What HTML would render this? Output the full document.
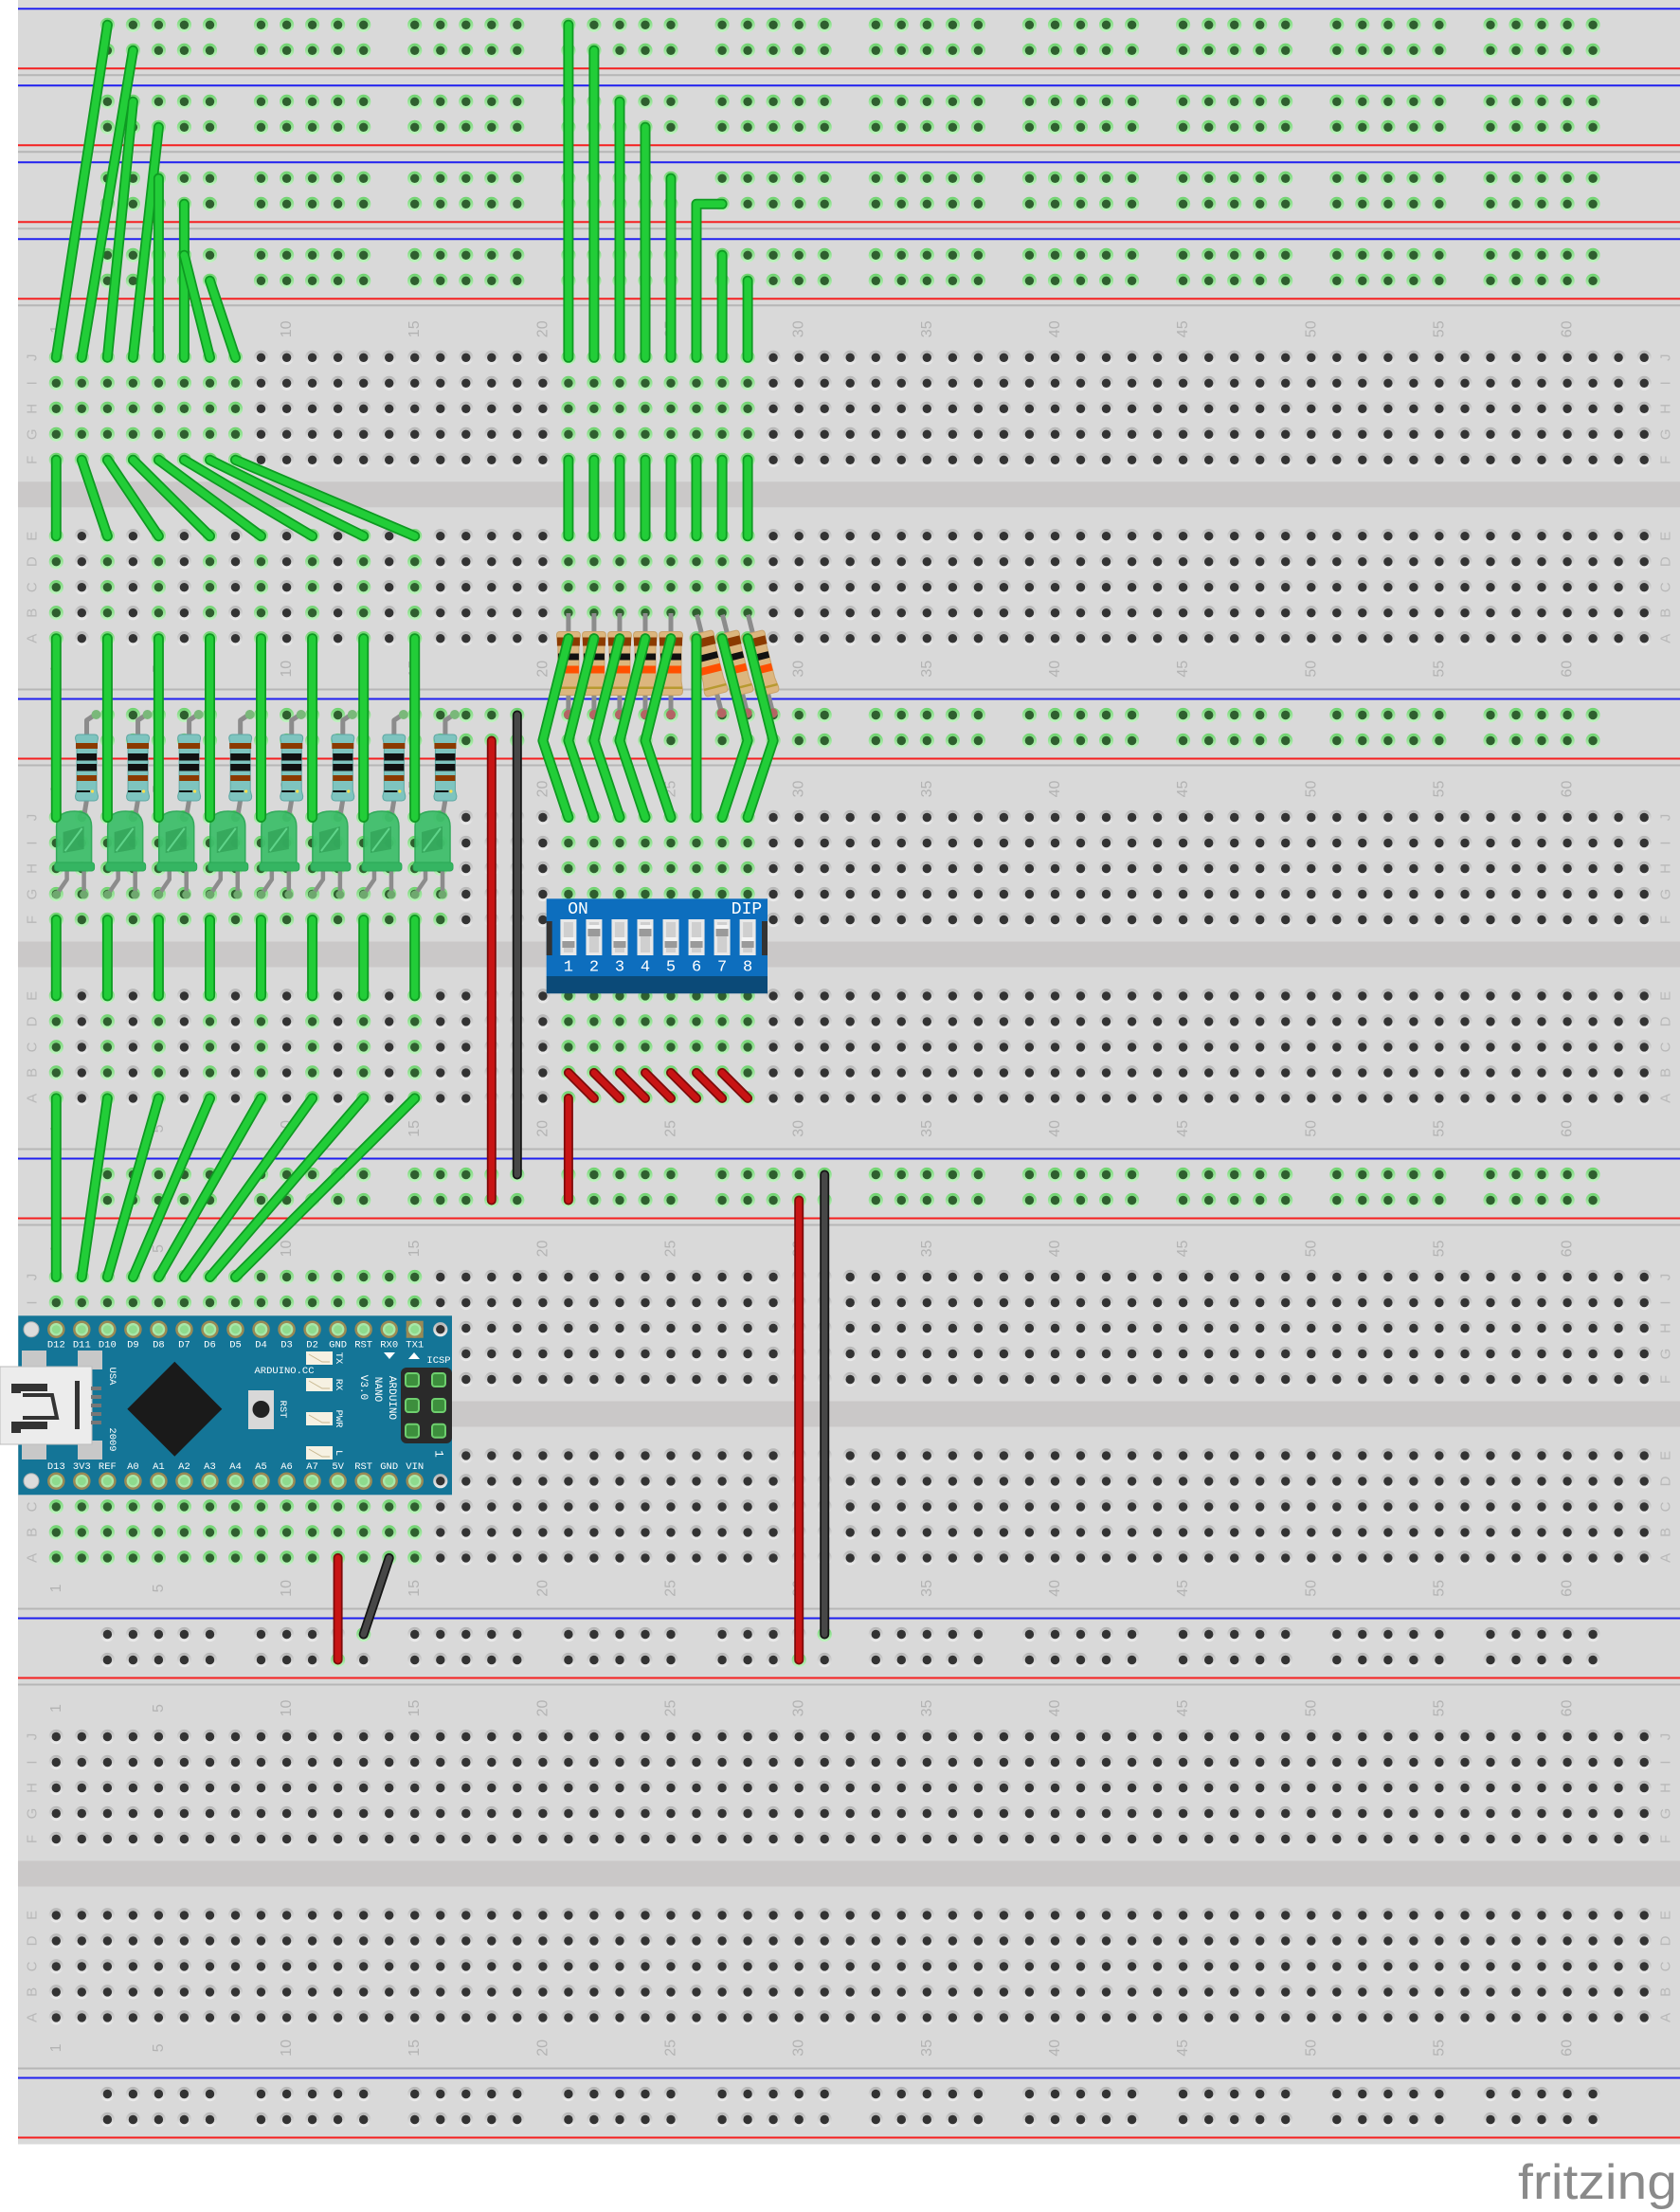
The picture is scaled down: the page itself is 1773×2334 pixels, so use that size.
<!DOCTYPE html>
<html><head><meta charset="utf-8"><style>
html,body{margin:0;padding:0;background:#fff;width:1773px;height:2334px;overflow:hidden}
svg{display:block}
</style></head><body>
<svg id="s" xmlns="http://www.w3.org/2000/svg" width="1773" height="2334" viewBox="0 0 1773 2334">
<defs>
<linearGradient id="dr" x1="0" y1="0" x2="0" y2="1"><stop offset="0" stop-color="#b4b4b4"/><stop offset="1" stop-color="#eeeeee"/></linearGradient>
<linearGradient id="gr" x1="0" y1="0" x2="0" y2="1"><stop offset="0" stop-color="#6cd26c"/><stop offset="1" stop-color="#c2f4c2"/></linearGradient>
</defs>
</svg>
<script>
const s=document.getElementById('s');
let o='';
const C=n=>59.3+(n-1)*27.03;
function H(x,y,g){o+=`<circle cx="${x}" cy="${y}" r="7.6" fill="url(#${g?'gr':'dr'})"/><circle cx="${x}" cy="${y}" r="4.7" fill="${g?'#2f5f2f':'#333333'}"/>`;}
function T(x,y,t,sz,fill,rot,anc,fam,extra){o+=`<text x="${x}" y="${y}" font-size="${sz}" fill="${fill}" text-anchor="${anc||'middle'}" dominant-baseline="central" font-family="${fam||'Liberation Sans, sans-serif'}" ${rot?`transform="rotate(${rot} ${x} ${y})"`:''} ${extra||''}>${t}</text>`;}
function W(pts,col){const c={g:['#0e9a22','#22cd38',11,7.5],r:['#7d0a0a','#c81414',10,6.5],k:['#151515','#474747',10,6.5]}[col];const p=pts.map(a=>a[0].toFixed(1)+','+a[1].toFixed(1)).join(' ');
o+=`<polyline points="${p}" fill="none" stroke="${c[0]}" stroke-width="${c[2]}" stroke-linecap="round" stroke-linejoin="round"/><polyline points="${p}" fill="none" stroke="${c[1]}" stroke-width="${c[3]}" stroke-linecap="round" stroke-linejoin="round"/>`;}

o+=`<rect x="19" y="0" width="1754" height="2262.5" fill="#d9d9d9"/>`;
const rails=[9.3,90.3,171.3,252.3,737.5,1222.5,1707.5,2192.5];
const railG=[1,1,1,1,1,1,0,0];
const bbJ=[377.3,862.5,1347.5,1832.5];
const offs=[0,27,54,81,108,188.4,215.4,242.4,269.4,296.4];
bbJ.forEach(j=>{o+=`<rect x="19" y="${j+131}" width="1754" height="27" fill="#cac8c8"/>`;});
rails.forEach((b,i)=>{
 o+=`<line x1="19" x2="1773" y1="${b}" y2="${b}" stroke="#2020f0" stroke-width="2"/>`;
 o+=`<line x1="19" x2="1773" y1="${b+63}" y2="${b+63}" stroke="#f52020" stroke-width="2"/>`;
 if(i<7) o+=`<line x1="19" x2="1773" y1="${b+70}" y2="${b+70}" stroke="#b6b6b6" stroke-width="2"/>`;
 if(i>=4) o+=`<line x1="19" x2="1773" y1="${b-10}" y2="${b-10}" stroke="#b6b6b6" stroke-width="2"/>`;
});
const railGreenPts={'6_12_1':1,'6_13_0':1,'6_30_1':1,'6_31_0':1};
rails.forEach((b,i)=>{
 for(let g=0;g<10;g++)for(let k=0;k<5;k++){const n=3+g*6+k;
  [0,1].forEach(r=>{H(C(n).toFixed(1),(b+17+r*27).toFixed(1),railG[i]||railGreenPts[i+'_'+n+'_'+r]);});}
});
function rng(a,b){const r=[];for(let i=a;i<=b;i++)r.push(i);return r;}
const odd=[1,3,5,7,9,11,13,15];
const G=[
 [rng(1,8).concat(rng(21,28)), odd.concat(rng(21,28))],
 [rng(1,16).concat(rng(21,28)), odd.concat(rng(21,28))],
 [rng(1,15), rng(1,15)],
 [[],[]]
];
const lettersTop=['J','I','H','G','F'],lettersBot=['E','D','C','B','A'];
bbJ.forEach((j,bi)=>{
 for(let r=0;r<10;r++){const y=j+offs[r];const half=r<5?0:1;
  for(let n=1;n<=63;n++){H(C(n).toFixed(1),y.toFixed(1),G[bi][half].includes(n));}
  const L=r<5?lettersTop[r]:lettersBot[r-5];
  T(34,y,L,15,'#b8b8b8',-90);T(1758,y,L,15,'#b8b8b8',-90);
 }
 [1,5,10,15,20,25,30,35,40,45,50,55,60].forEach(n=>{
  T(C(n),j-30,n,16,'#b3b3b3',-90);T(C(n),j+296.4+32,n,16,'#b3b3b3',-90);
 });
});

function resBeige(){
 return `<line x1="0" y1="-53.5" x2="0" y2="53.5" stroke="#8c8c8c" stroke-width="5"/>
 <circle cx="0" cy="53.5" r="5" fill="#b46464"/>
 <path d="M-12.5,-30 Q-12.5,-34 -9,-34 L9,-34 Q12.5,-34 12.5,-30 L11,-18 L11,18 L12.5,28 Q12.5,33 9,33 L-9,33 Q-12.5,33 -12.5,28 L-11,18 L-11,-18 Z" fill="#dcb67e" stroke="#c9a26a" stroke-width="1"/>
 <rect x="-12" y="-28" width="24" height="9" fill="#8b3a00"/>
 <rect x="-11" y="-11" width="22" height="7" fill="#111"/>
 <rect x="-11" y="2" width="22" height="8" fill="#ff5000"/>
 <rect x="-12" y="24" width="24" height="2.5" fill="#b89a30"/>`;
}
for(let i=0;i<5;i++){o+=`<g transform="translate(${C(21+i)},700.5)">${resBeige()}</g>`;}
for(let i=0;i<3;i++){o+=`<g transform="translate(${C(26+i)+13.5},700.5) rotate(-14.2)">${resBeige()}</g>`;}

for(let k=0;k<8;k++){
 const rx=91.5+k*54.06, lx=78.6+k*54.06;
 o+=`<polyline points="${rx},776 ${rx},760 ${rx+9},754" fill="none" stroke="#8c8c8c" stroke-width="5" stroke-linejoin="round"/>`;
 o+=`<circle cx="${rx+10}" cy="754" r="5" fill="#7ab87a"/>`;
 o+=`<line x1="${rx}" y1="844" x2="${rx-3}" y2="862" stroke="#8c8c8c" stroke-width="5"/>`;
 o+=`<path d="M${rx-12},779 Q${rx-12},775 ${rx-8},775 L${rx+8},775 Q${rx+12},775 ${rx+12},779 L${rx+10.5},786 L${rx+10.5},834 L${rx+12},840 Q${rx+12},845 ${rx+8},845 L${rx-8},845 Q${rx-12},845 ${rx-12},840 L${rx-10.5},834 L${rx-10.5},786 Z" fill="#7ec4bf" stroke="#5ea8a3" stroke-width="1"/>`;
 o+=`<rect x="${rx-11.5}" y="784" width="23" height="6" fill="#8b3a00"/><rect x="${rx-10.5}" y="795" width="21" height="7.5" fill="#111"/><rect x="${rx-10.5}" y="806" width="21" height="7.5" fill="#111"/><rect x="${rx-10.5}" y="818" width="21" height="6" fill="#8b3a00"/><rect x="${rx-10.5}" y="834" width="14" height="2" fill="#111"/><circle cx="${rx+6}" cy="835" r="1.6" fill="#ffe14a"/>`;
 o+=`<polyline points="${lx+10},915 ${lx+10},944" fill="none" stroke="#8c8c8c" stroke-width="4.5"/>`;
 o+=`<polyline points="${lx-8},915 ${lx-8},928 ${lx-19},944" fill="none" stroke="#8c8c8c" stroke-width="4.5" stroke-linejoin="round"/>`;
 o+=`<circle cx="${lx-19}" cy="944" r="4.5" fill="#6fa86f"/><circle cx="${lx+10}" cy="944" r="4.5" fill="#6fa86f"/>`;
 o+=`<path d="M${lx-19},912 L${lx-19},872 Q${lx-19},856 ${lx},856 Q${lx+18},856 ${lx+18},872 L${lx+18},912 Z" fill="#40bf6c" stroke="#2aa855" stroke-width="1.5" opacity="0.95"/>`;
 o+=`<rect x="${lx-21}" y="910" width="42" height="9" rx="3" fill="#35b562" stroke="#2aa855" stroke-width="1"/>`;
 o+=`<path d="M${lx-12},900 L${lx-12},878 L${lx+10},872 L${lx+10},896 Z" fill="#2f9f55" opacity="0.7"/>`;
 o+=`<line x1="${lx-10}" y1="898" x2="${lx+8}" y2="874" stroke="#5fd48a" stroke-width="2"/>`;
}

o+=`<rect x="576.7" y="948.3" width="233.3" height="82" fill="#0d6ebe"/>`;
o+=`<rect x="576.7" y="1030" width="233.3" height="18.3" fill="#0b4a78"/>`;
o+=`<rect x="576.7" y="972" width="6" height="36" fill="#333"/><rect x="804" y="972" width="6" height="36" fill="#333"/>`;
const hi=[0,1,0,1,0,0,1,0];
for(let i=0;i<8;i++){const x=C(21+i);
 o+=`<rect x="${x-8.5}" y="970" width="17" height="38" fill="#e8e8e8"/><rect x="${x-5}" y="973" width="10" height="32" fill="#cfcfcf"/>`;
 o+=`<rect x="${x-6.5}" y="${hi[i]?980:993}" width="13" height="${hi[i]?8:7}" fill="#9a9a9a"/><rect x="${x-6.5}" y="${hi[i]?976:989}" width="13" height="4" fill="#f4f4f4"/>`;
 T(x,1021,i+1,17,'#ffffff',0,'middle','Liberation Mono, monospace');
}
T(610,960,'ON',18,'#ffffff',0,'middle','Liberation Mono, monospace');
T(788,960,'DIP',18,'#ffffff',0,'middle','Liberation Mono, monospace');

o+=`<rect x="19.3" y="1388.3" width="457.7" height="189" fill="#147597"/>`;
o+=`<rect x="23" y="1425" width="26" height="20" fill="#c8c8c8"/><rect x="82" y="1425" width="26" height="20" fill="#c8c8c8"/><rect x="23" y="1520" width="26" height="20" fill="#c8c8c8"/><rect x="82" y="1520" width="26" height="20" fill="#c8c8c8"/>`;
o+=`<rect x="0" y="1442" width="97" height="82" fill="#ececec" stroke="#bbb" stroke-width="1"/>`;
o+=`<rect x="96" y="1463" width="11" height="4" fill="#777"/><rect x="96" y="1472" width="11" height="4" fill="#777"/><rect x="96" y="1481" width="11" height="4" fill="#777"/><rect x="96" y="1490" width="11" height="4" fill="#777"/><rect x="96" y="1499" width="11" height="4" fill="#777"/>`;
o+=`<rect x="79" y="1457" width="5" height="51" fill="#333"/><path d="M12,1460 L50,1460 L50,1468 L22,1468 L22,1470 L12,1470 Z" fill="#333"/><path d="M12,1500 L50,1500 L50,1508 L22,1508 L22,1512 L12,1512 Z" fill="#333"/><path d="M24,1472 L55,1472 L60,1496 L24,1496" fill="none" stroke="#333" stroke-width="4"/>`;
o+=`<polygon points="184.3,1436.7 234.3,1486.7 184.3,1536.7 134.3,1486.7" fill="#1a1a1a"/>`;
o+=`<rect x="262" y="1467" width="27" height="41" fill="#d8d8d8"/><circle cx="275.5" cy="1487" r="9" fill="#222"/>`;
T(298,1487,'RST',10.5,'#ffffff',90,'middle','Liberation Mono, monospace');
[[1426,'TX'],[1454,'RX'],[1490,'PWR'],[1526,'L']].forEach(a=>{o+=`<rect x="323" y="${a[0]}" width="28" height="14" fill="#f6f1e2"/><path d="M326,${a[0]+3} L340,${a[0]+11} L348,${a[0]+11}" stroke="#c8b890" fill="none" stroke-width="1"/>`;T(357,a[0]+7,a[1],10.5,'#ffffff',90,'middle','Liberation Mono, monospace');});
T(300,1447,'ARDUINO.CC',10.5,'#ffffff',0,'middle','Liberation Mono, monospace');
T(413,1475,'ARDUINO',11,'#ffffff',90,'middle','Liberation Mono, monospace');
T(398,1466,'NANO',11,'#ffffff',90,'middle','Liberation Mono, monospace');
T(383,1464,'V3.0',11,'#ffffff',90,'middle','Liberation Mono, monospace');
T(118,1452,'USA',10.5,'#ffffff',90,'middle','Liberation Mono, monospace');
T(118,1519,'2009',10.5,'#ffffff',90,'middle','Liberation Mono, monospace');
T(463,1436,'ICSP',10.5,'#ffffff',0,'middle','Liberation Mono, monospace');
o+=`<rect x="423" y="1443" width="54" height="80" rx="6" fill="#2a2a2a"/>`;
[1456,1483,1509.7].forEach(y=>{[435,463].forEach(x=>{o+=`<rect x="${x-7}" y="${y-7}" width="14" height="14" rx="3" fill="#3d8f3d" stroke="#6ecf6e" stroke-width="2"/>`;});});
T(463,1534,'1',13,'#ffffff',90,'middle','Liberation Mono, monospace');
o+=`<polygon points="405,1427 417,1427 411,1434" fill="#fff"/><polygon points="431,1434 443,1434 437,1427" fill="#fff"/>`;
[1402.7,1562.7].forEach(y=>{o+=`<circle cx="33" cy="${y}" r="8" fill="#dcdcdc" stroke="#b0b0b0" stroke-width="1"/>`;H(C(16).toFixed(1),y,false);});
const topL=['D12','D11','D10','D9','D8','D7','D6','D5','D4','D3','D2','GND','RST','RX0','TX1'];
const botL=['D13','3V3','REF','A0','A1','A2','A3','A4','A5','A6','A7','5V','RST','GND','VIN'];
for(let i=0;i<15;i++){const x=C(i+1);
 if(i==14) o+=`<rect x="${x-9}" y="1393.7" width="18" height="18" fill="#9a8a55"/>`;
 [1402.7,1562.7].forEach(y=>{o+=`<circle cx="${x}" cy="${y}" r="8" fill="#a9e7a9" stroke="#9a8a55" stroke-width="2.5"/><circle cx="${x}" cy="${y}" r="4.5" fill="#8edb8e"/>`;});
 T(x,1419.5,topL[i],10.5,'#ffffff',0,'middle','Liberation Mono, monospace');
 T(x,1548,botL[i],10.5,'#ffffff',0,'middle','Liberation Mono, monospace');
}

const J1=377.3,F1=485.3,E1=565.7,A1=673.7,J2=862.5,F2=970.5,E2=1050.9,B2=1131.9,A2=1158.9,J3=1347.5,A3=1643.9;
[[1,3,26.3],[2,4,53.3],[3,4,107.3],[4,5,134.3],[5,5,188.3],[6,6,215.3],[7,6,269.3],[8,7,296.3]].forEach(a=>W([[C(a[0]),J1],[C(a[1]),a[2]]],'g'));
[[21,26.3],[22,53.3],[23,107.3],[24,134.3],[25,188.3],[27,269.3],[28,296.3]].forEach(a=>W([[C(a[0]),J1],[C(a[0]),a[1]]],'g'));
W([[C(26),J1],[C(26),215.3],[C(27),215.3]],'g');
for(let i=1;i<=8;i++)W([[C(i),F1],[C(2*i-1),E1]],'g');
for(let c=21;c<=28;c++)W([[C(c),F1],[C(c),E1]],'g');
odd.forEach(c=>W([[C(c),A1],[C(c),J2]],'g'));
for(let c=21;c<=28;c++){let d=c<=25?-1:(c==26?0:1);W([[C(c),A1],[C(c+d),781.5],[C(c),J2]],'g');}
odd.forEach(c=>W([[C(c),F2],[C(c),E2]],'g'));
for(let k=1;k<=8;k++)W([[C(2*k-1),A2],[C(k),J3]],'g');
for(let i=0;i<7;i++)W([[C(21+i),B2],[C(22+i),A2]],'r');
W([[C(21),A2],[C(21),1266.5]],'r');
W([[C(18),781.5],[C(18),1266.5]],'r');
W([[C(19),754.5],[C(19),1239.5]],'k');
W([[C(30),1266.5],[C(30),1751.5]],'r');
W([[C(31),1239.5],[C(31),1724.5]],'k');
W([[C(12),A3],[C(12),1751.5]],'r');
W([[C(14),A3],[C(13),1724.5]],'k');

o+=`<text x="1602" y="2320" font-size="52" fill="#8a8a8a" font-family="Liberation Sans, sans-serif" textLength="168" lengthAdjust="spacingAndGlyphs">fritzing</text>`;

s.insertAdjacentHTML('beforeend',o);
</script>
</body></html>
